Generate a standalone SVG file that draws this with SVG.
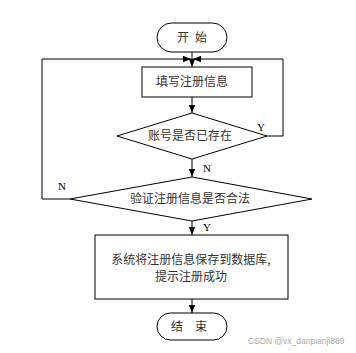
<svg xmlns="http://www.w3.org/2000/svg" width="356" height="353" viewBox="0 0 356 353">
<style>
.s{fill:#fff;stroke:#000;stroke-width:1}
.t{font-family:"Noto Sans CJK SC",sans-serif;font-size:12px;fill:#333;text-anchor:middle}
.l{font-family:"Liberation Serif",serif;font-size:11px;fill:#000}
.c{fill:none;stroke:#000;stroke-width:1}
</style>
<defs>
<marker id="a" viewBox="0 0 10 10" refX="10" refY="5" markerWidth="8" markerHeight="8" markerUnits="userSpaceOnUse" orient="auto"><path d="M0,1 L10,5 L0,9 z" fill="#000"/></marker>
</defs>
<rect width="356" height="353" fill="#fff"/>
<g id="connectors">
<path class="c" d="M192,52 V67" marker-end="url(#a)"/>
<path class="c" d="M42,199 H70"/>
<path class="c" d="M42,199 V59 H191" marker-end="url(#a)"/>
<path class="c" d="M267,136 H283 V59 H193" marker-end="url(#a)"/>
<path class="c" d="M192,97 V113" marker-end="url(#a)"/>
<path class="c" d="M192,159 V177" marker-end="url(#a)"/>
<path class="c" d="M192,221 V235" marker-end="url(#a)"/>
<path class="c" d="M192,299 V313" marker-end="url(#a)"/>
<text class="l" x="257" y="131">Y</text>
<text class="l" x="203" y="172">N</text>
<text class="l" x="58" y="190">N</text>
<text class="l" x="203" y="231">Y</text>
</g>
<g id="start">
<rect class="s" x="157" y="23" width="70" height="29" rx="14.5"/>
<text class="t" x="183" y="42">开</text>
<text class="t" x="201" y="42">始</text>
</g>
<g id="fill">
<rect class="s" x="142" y="67" width="110" height="30"/>
<text class="t" x="192" y="86">填写注册信息</text>
</g>
<g id="check1">
<polygon class="s" points="192,113 267,136 192,159 117,136"/>
<text class="t" x="190" y="140">账号是否已存在</text>
</g>
<g id="check2">
<polygon class="s" points="192,177 312,199 192,221 70,199"/>
<text class="t" x="190" y="203">验证注册信息是否合法</text>
</g>
<g id="save">
<rect class="s" x="95" y="235" width="193" height="64"/>
<text class="t" x="191" y="264">系统将注册信息保存到数据库,</text>
<text class="t" x="191" y="281">提示注册成功</text>
</g>
<g id="end">
<rect class="s" x="157" y="313" width="70" height="27" rx="13.5"/>
<text class="t" x="177" y="331">结</text>
<text class="t" x="201" y="331">束</text>
</g>
<text x="248" y="344" font-family="Liberation Sans,sans-serif" font-size="8.5" fill="#aaa">CSDN @vx_danpianji889</text>
</svg>
